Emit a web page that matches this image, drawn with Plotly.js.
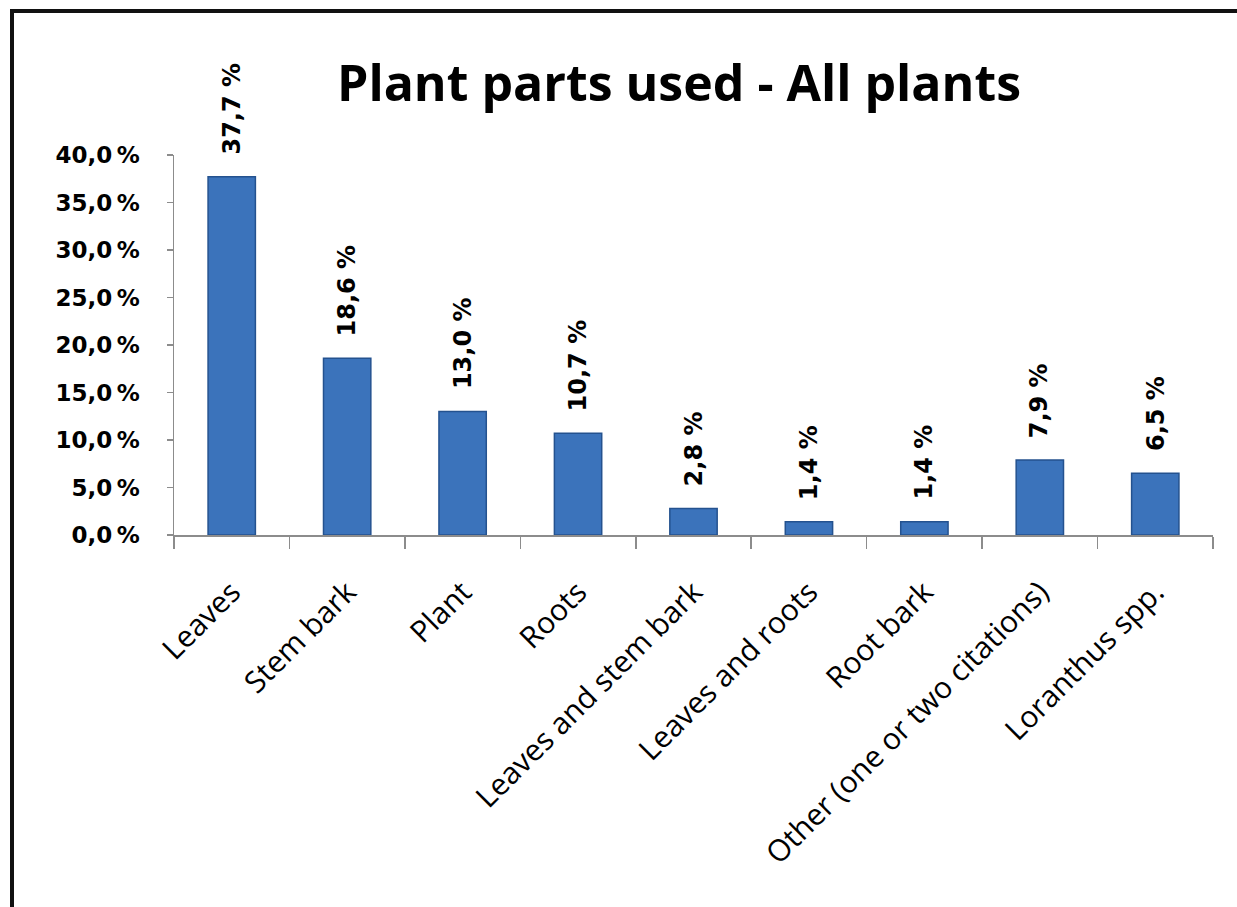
<!DOCTYPE html>
<html>
<head>
<meta charset="utf-8">
<script src="https://cdn.plot.ly/plotly-3.0.1.min.js"></script>
<style>
  html, body { margin: 0; padding: 0; background: #fff; overflow: hidden; }
  #chart { position: absolute; left: 0; top: 0; width: 1237px; height: 907px; }
  #frame { position: absolute; left: 10px; top: 9px; width: 1400px; height: 1100px;
           border: 4px solid #111; pointer-events: none; z-index: 10; }
</style>
</head>
<body>
<div id="chart"></div>
<div id="frame"></div>
<script>
const categories = ["Leaves", "Stem bark", "Plant", "Roots", "Leaves and stem bark",
                    "Leaves and roots", "Root bark", "Other (one or two citations)", "Loranthus spp."];
const values = [37.7, 18.6, 13.0, 10.7, 2.8, 1.4, 1.4, 7.9, 6.5];
const yTickValues = [0, 5, 10, 15, 20, 25, 30, 35, 40];
const titleText = "Plant parts used - All plants";

const fmt = v => v.toFixed(1).replace('.', ',') + ' %';

const trace = {
  type: 'bar',
  x: categories,
  y: values,
  width: 0.41,
  marker: { color: '#3b73bb', line: { color: '#24528f', width: 1.5 } },
  hoverinfo: 'none'
};

const annotations = categories.map((c, i) => ({
  x: c, y: values[i], xref: 'x', yref: 'y',
  text: fmt(values[i]), textangle: -90, showarrow: false,
  xanchor: 'center', yanchor: 'bottom', yshift: 20,
  font: { family: 'DejaVu Sans', size: 24, color: '#000', weight: 'bold' }
}));

const layout = {
  width: 1237, height: 907,
  paper_bgcolor: '#fff', plot_bgcolor: '#fff',
  separators: ',.',
  margin: { l: 174, r: 24, t: 155, b: 372 },
  showlegend: false,
  bargap: 0.59,
  title: {
    text: titleText,
    x: 679 / 1237, xanchor: 'center', xref: 'container',
    y: 1 - 83 / 907, yanchor: 'middle', yref: 'container',
    font: { family: 'Open Sans', size: 50, color: '#000', weight: 'bold' }
  },
  xaxis: {
    type: 'category',
    tickangle: -45,
    tickson: 'boundaries',
    ticks: 'outside', ticklen: 12, tickcolor: '#8c8c8c', tickwidth: 1.5,
    showline: true, linecolor: '#8c8c8c', linewidth: 1.5,
    showgrid: false, zeroline: false,
    ticklabelstandoff: 26,
    tickfont: { family: 'Open Sans', size: 30, color: '#000' },
    fixedrange: true
  },
  yaxis: {
    range: [0, 40],
    tickvals: yTickValues,
    ticktext: yTickValues.map(v => v.toFixed(1).replace('.', ',') + '\u2009%'),
    ticks: 'outside', ticklen: 6, tickcolor: '#8c8c8c', tickwidth: 1.5,
    showline: true, linecolor: '#8c8c8c', linewidth: 1.5,
    showgrid: false, zeroline: false,
    ticklabelstandoff: 22,
    tickfont: { family: 'DejaVu Sans', size: 23, color: '#000', weight: 'bold' },
    fixedrange: true
  },
  annotations: annotations
};

Plotly.newPlot('chart', [trace], layout, { staticPlot: true, displayModeBar: false });
</script>
</body>
</html>
